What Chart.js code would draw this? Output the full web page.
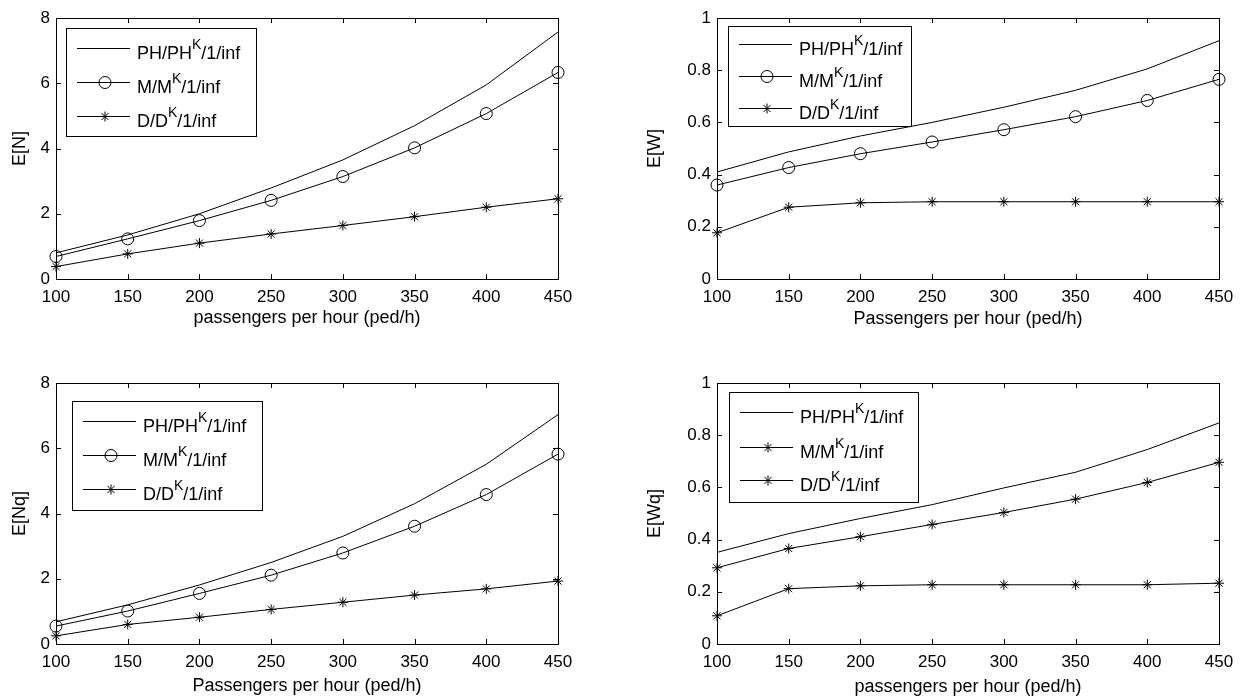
<!DOCTYPE html>
<html>
<head>
<meta charset="utf-8">
<script src="https://cdn.jsdelivr.net/npm/chart.js@4/dist/chart.umd.min.js"></script>
<style>
  html, body { margin: 0; padding: 0; background: #fff; overflow: hidden; }
  body { width: 1249px; height: 697px; position: relative; }
  .panel { position: absolute; }
</style>
</head>
<body>
<div class="panel" style="left:0px;top:0px"><canvas id="c1" width="588" height="339"></canvas></div>
<div class="panel" style="left:637px;top:0px"><canvas id="c2" width="612" height="339"></canvas></div>
<div class="panel" style="left:0px;top:365px"><canvas id="c3" width="588" height="339"></canvas></div>
<div class="panel" style="left:637px;top:365px"><canvas id="c4" width="612" height="339"></canvas></div>
<script>
// arrival rates on the x axis
const rates = [100, 150, 200, 250, 300, 350, 400, 450];

// E[N]
const enPH = [0.80, 1.35, 2.00, 2.79, 3.65, 4.70, 5.95, 7.57];
const enMM = [0.69, 1.23, 1.79, 2.41, 3.14, 4.02, 5.07, 6.33];
const enDD = [0.38, 0.77, 1.10, 1.38, 1.64, 1.91, 2.20, 2.46];

// E[W]
const ewPH = [0.410, 0.487, 0.548, 0.600, 0.658, 0.723, 0.805, 0.913];
const ewMM = [0.360, 0.427, 0.480, 0.525, 0.572, 0.622, 0.684, 0.765];
const ewDD = [0.177, 0.275, 0.292, 0.296, 0.296, 0.296, 0.296, 0.296];

// E[Nq]
const enqPH = [0.68, 1.20, 1.81, 2.50, 3.30, 4.30, 5.51, 7.03];
const enqMM = [0.55, 1.01, 1.55, 2.11, 2.79, 3.61, 4.58, 5.82];
const enqDD = [0.25, 0.60, 0.82, 1.06, 1.28, 1.50, 1.69, 1.93];

// E[Wq]
const ewqPH = [0.351, 0.423, 0.481, 0.534, 0.598, 0.658, 0.745, 0.847];
const ewqMM = [0.292, 0.366, 0.411, 0.458, 0.504, 0.555, 0.619, 0.696];
const ewqDD = [0.108, 0.212, 0.223, 0.227, 0.227, 0.227, 0.227, 0.233];

// legend text: name, superscript, tail
const legendNames = [['PH/PH', 'K', '/1/inf'], ['M/M', 'K', '/1/inf'], ['D/D', 'K', '/1/inf']];

Chart.defaults.font.family = '"Liberation Sans", Arial, sans-serif';
Chart.defaults.color = '#000';

function drawMarker(ctx, style, r, x, y) {
  ctx.beginPath();
  if (style === 'circle') {
    ctx.arc(x, y, r, 0, Math.PI * 2);
  } else if (style === 'star') {
    for (let k = 0; k < 4; k++) {
      const a = k * Math.PI / 4;
      ctx.moveTo(x - r * Math.cos(a), y - r * Math.sin(a));
      ctx.lineTo(x + r * Math.cos(a), y + r * Math.sin(a));
    }
  }
  ctx.stroke();
}

// closed box with inward ticks plus the boxed legend
const boxPlot = {
  id: 'boxPlot',
  afterDraw(chart, args, opts) {
    const {ctx, chartArea: a, scales: {x, y}} = chart;
    ctx.save();
    ctx.strokeStyle = '#000';
    ctx.lineWidth = 1;
    ctx.strokeRect(a.left + 0.5, a.top + 0.5, a.right - a.left, a.bottom - a.top);
    ctx.beginPath();
    x.ticks.forEach(t => {
      const px = Math.round(x.getPixelForValue(t.value)) + 0.5;
      ctx.moveTo(px, a.bottom); ctx.lineTo(px, a.bottom - 5);
      ctx.moveTo(px, a.top); ctx.lineTo(px, a.top + 5);
    });
    y.ticks.forEach(t => {
      const py = Math.round(y.getPixelForValue(t.value)) + 0.5;
      ctx.moveTo(a.left, py); ctx.lineTo(a.left + 5, py);
      ctx.moveTo(a.right, py); ctx.lineTo(a.right - 5, py);
    });
    ctx.stroke();

    // legend
    const lx = a.left + opts.left, ly = a.top + opts.top;
    ctx.fillStyle = '#fff';
    ctx.fillRect(lx, ly, opts.width, opts.height);
    ctx.strokeRect(lx + 0.5, ly + 0.5, opts.width, opts.height);
    chart.data.datasets.forEach((ds, i) => {
      const ry = Math.round(ly + opts.rows[i]) + 0.5;
      ctx.beginPath();
      ctx.moveTo(lx + 11, ry); ctx.lineTo(lx + 64, ry);
      ctx.stroke();
      if (ds.pointRadius > 0) drawMarker(ctx, ds.pointStyle, ds.pointRadius, lx + 39, ry);
      const parts = legendNames[i];
      ctx.fillStyle = '#000';
      ctx.textBaseline = 'alphabetic';
      ctx.textAlign = 'left';
      let tx = lx + 71;
      ctx.font = '18px "Liberation Sans", Arial, sans-serif';
      ctx.fillText(parts[0], tx, ry + 10);
      tx += ctx.measureText(parts[0]).width;
      ctx.font = '14px "Liberation Sans", Arial, sans-serif';
      ctx.fillText(parts[1], tx, ry);
      tx += ctx.measureText(parts[1]).width;
      ctx.font = '18px "Liberation Sans", Arial, sans-serif';
      ctx.fillText(parts[2], tx, ry + 10);
    });
    ctx.restore();
  }
};

function series(values, style, radius) {
  return {
    data: rates.map((r, i) => ({x: r, y: values[i]})),
    borderColor: '#000',
    borderWidth: 1,
    pointStyle: style,
    pointRadius: radius,
    pointBorderColor: '#000',
    pointBackgroundColor: 'rgba(0,0,0,0)',
    pointBorderWidth: 1,
    tension: 0,
    clip: false
  };
}

function makePanel(id, sets, yMax, yStep, yTitle, xTitle, axisW, yTitlePad, xTitlePad, legend) {
  new Chart(document.getElementById(id), {
    type: 'line',
    data: { datasets: sets },
    options: {
      responsive: false,
      animation: false,
      devicePixelRatio: 1,
      layout: { padding: { top: 18, right: 30, left: 0, bottom: 0 } },
      plugins: { legend: { display: false }, tooltip: { enabled: false }, boxPlot: legend },
      scales: {
        x: {
          type: 'linear', min: 100, max: 450,
          grid: { display: false, drawTicks: false },
          border: { display: false },
          ticks: { stepSize: 50, padding: 8, font: { size: 17 }, color: '#000' },
          title: { display: true, text: xTitle, font: { size: 18 }, color: '#000', padding: { top: 0, bottom: xTitlePad } },
          afterFit: s => { s.height = 60; }
        },
        y: {
          min: 0, max: yMax,
          grid: { display: false, drawTicks: false },
          border: { display: false },
          ticks: { stepSize: yStep, padding: 6, font: { size: 17 }, color: '#000',
                   callback: v => String(+v.toFixed(1)) },
          title: { display: true, text: yTitle, font: { size: 18 }, color: '#000', padding: { top: yTitlePad, bottom: 0 } },
          afterFit: s => { s.width = axisW; }
        }
      }
    },
    plugins: [boxPlot]
  });
}

makePanel('c1', [series(enPH, false, 0), series(enMM, 'circle', 6), series(enDD, 'star', 5)],
  8, 2, 'E[N]', 'passengers per hour (ped/h)', 56, 9, 10,
  { left: 10, top: 10, width: 190, height: 108, rows: [20, 53.5, 87.5] });

makePanel('c2', [series(ewPH, false, 0), series(ewMM, 'circle', 6), series(ewDD, 'star', 5)],
  1, 0.2, 'E[W]', 'Passengers per hour (ped/h)', 80, 7, 9,
  { left: 11, top: 8, width: 183, height: 100, rows: [18, 50, 82] });

makePanel('c3', [series(enqPH, false, 0), series(enqMM, 'circle', 6), series(enqDD, 'star', 5)],
  8, 2, 'E[Nq]', 'Passengers per hour (ped/h)', 56, 9, 7,
  { left: 16, top: 18, width: 190, height: 109, rows: [19.5, 53.5, 88] });

makePanel('c4', [series(ewqPH, false, 0), series(ewqMM, 'star', 5), series(ewqDD, 'star', 5)],
  1, 0.2, 'E[Wq]', 'passengers per hour (ped/h)', 80, 7, 6,
  { left: 12, top: 9, width: 189, height: 110, rows: [20, 55, 88] });
</script>
</body>
</html>
